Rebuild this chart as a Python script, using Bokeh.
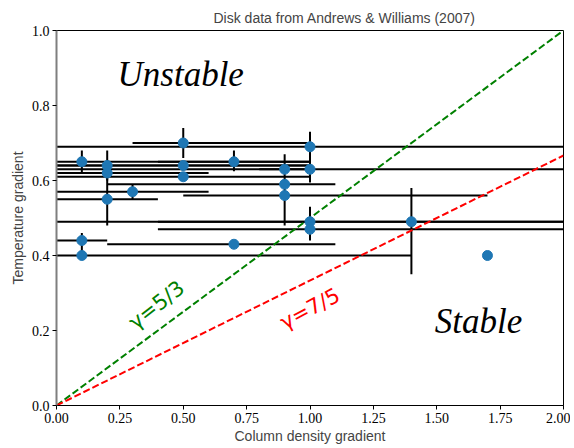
import math
from bokeh.plotting import figure
from bokeh.models import ColumnDataSource, FixedTicker, NumeralTickFormatter, Range1d
from bokeh.core.properties import value
from bokeh.embed import file_html
from bokeh.resources import INLINE

# ---- data ----
col_grad = [0.1, 0.1, 0.1, 0.2, 0.2, 0.2, 0.3, 0.5, 0.5, 0.5, 0.7, 0.7,
            0.9, 0.9, 0.9, 1.0, 1.0, 1.0, 1.0, 1.4, 1.7]
temp_grad = [0.65, 0.44, 0.40, 0.64, 0.62, 0.55, 0.57, 0.70, 0.64, 0.61, 0.65, 0.43,
             0.63, 0.59, 0.56, 0.69, 0.63, 0.49, 0.47, 0.49, 0.40]
col_lo = [-0.8, 0.0, -1.2, -0.6, -0.2, 0.0, 0.0, 0.3, 0.0, 0.0, 0.4, 0.2,
          0.8, 0.2, 0.5, -0.1, -0.1, -0.1, 0.4, 0.4, 1.7]
col_hi = [1.0, 0.2, 1.4, 1.0, 0.6, 0.4, 0.6, 1.0, 1.0, 1.0, 1.0, 1.1,
          1.0, 1.1, 1.7, 2.1, 2.1, 2.1, 2.1, 2.4, 1.7]
temp_lo = [0.62, 0.40, 0.40, 0.60, 0.62, 0.48, 0.55, 0.66, 0.64, 0.60, 0.625, 0.43,
           0.59, 0.59, 0.48, 0.65, 0.595, 0.45, 0.44, 0.35, 0.40]
temp_hi = [0.68, 0.46, 0.40, 0.68, 0.62, 0.62, 0.59, 0.74, 0.64, 0.62, 0.68, 0.43,
           0.67, 0.59, 0.60, 0.73, 0.665, 0.53, 0.50, 0.58, 0.40]

line_x = [0.0, 2.0]
slope_53 = 0.5        # gamma = 5/3 boundary
slope_75 = 1.0 / 3.0  # gamma = 7/5 boundary

x_ticks = [0.0, 0.25, 0.5, 0.75, 1.0, 1.25, 1.5, 1.75, 2.0]
y_ticks = [0.0, 0.2, 0.4, 0.6, 0.8, 1.0]

labels = ["Unstable", "Stable"]
label_x = [0.49, 1.665]
label_y = [0.883, 0.225]

gamma_labels = ["γ=5/3", "γ=7/5"]
gamma_x = [0.395, 1.0]
gamma_y = [0.268, 0.258]
gamma_angle_deg = [38, 28]
gamma_colors = ["green", "red"]

# ---- figure ----
p = figure(width=570, height=446, output_backend="svg", toolbar_location=None,
           x_range=Range1d(0, 2), y_range=Range1d(0, 1),
           title="Disk data from Andrews & Williams (2007)")
p.min_border_left = 56
p.min_border_right = 7
p.min_border_top = 30
p.min_border_bottom = 41

p.title.text_font = "Liberation Sans"
p.title.text_font_size = "14px"
p.title.text_font_style = "normal"
p.title.align = "left"
p.title.offset = 157

p.grid.visible = False
p.outline_line_color = "black"
p.outline_line_width = 1

for ax in (p.xaxis[0], p.yaxis[0]):
    ax.major_label_text_font = "Liberation Serif"
    ax.major_label_text_font_size = "14px"
    ax.major_label_text_color = "black"
    ax.axis_label_text_font = "Liberation Sans"
    ax.axis_label_text_font_size = "14px"
    ax.axis_label_text_font_style = "normal"
    ax.minor_tick_line_color = None
    ax.major_tick_out = 4
    ax.major_tick_in = 0
    ax.major_label_standoff = 3
    ax.axis_label_standoff = 2

p.xaxis.axis_label = "Column density gradient"
p.yaxis.axis_label = "Temperature gradient"
p.yaxis.axis_label_standoff = 3
p.xaxis.ticker = FixedTicker(ticks=x_ticks)
p.yaxis.ticker = FixedTicker(ticks=y_ticks)
p.xaxis.formatter = NumeralTickFormatter(format="0.00")
p.yaxis.formatter = NumeralTickFormatter(format="0.0")
p.yaxis.axis_line_color = "#7f7f7f"
p.yaxis.axis_line_width = 2
p.xaxis.axis_line_color = "black"

src = ColumnDataSource(dict(x=col_grad, y=temp_grad, xl=col_lo, xh=col_hi,
                            yl=temp_lo, yh=temp_hi))

# error bars
p.segment(x0="xl", y0="y", x1="xh", y1="y", source=src, line_color="black", line_width=2)
p.segment(x0="x", y0="yl", x1="x", y1="yh", source=src, line_color="black", line_width=2)

# stability boundaries
p.line(line_x, [slope_53 * v for v in line_x], line_color="green", line_width=2,
       line_dash="7 3")
p.line(line_x, [slope_75 * v for v in line_x], line_color="red", line_width=2,
       line_dash="7 3")

# data points
p.scatter("x", "y", source=src, size=10, fill_color="#1f77b4", line_color="#1f77b4")

# region labels
p.text(x=label_x, y=label_y, text=labels, text_font=value("Liberation Serif"),
       text_font_style="italic", text_font_size="35px", text_align="center",
       text_baseline="middle", text_color="black")

for t, gx, gy, ang, c in zip(gamma_labels, gamma_x, gamma_y, gamma_angle_deg, gamma_colors):
    p.text(x=[gx], y=[gy], text=[t], angle=math.radians(ang),
           text_font=value("DejaVu Sans"), text_font_size="21px",
           text_align="center", text_baseline="middle", text_color=c)

open("out.html", "w").write(file_html(p, INLINE))
